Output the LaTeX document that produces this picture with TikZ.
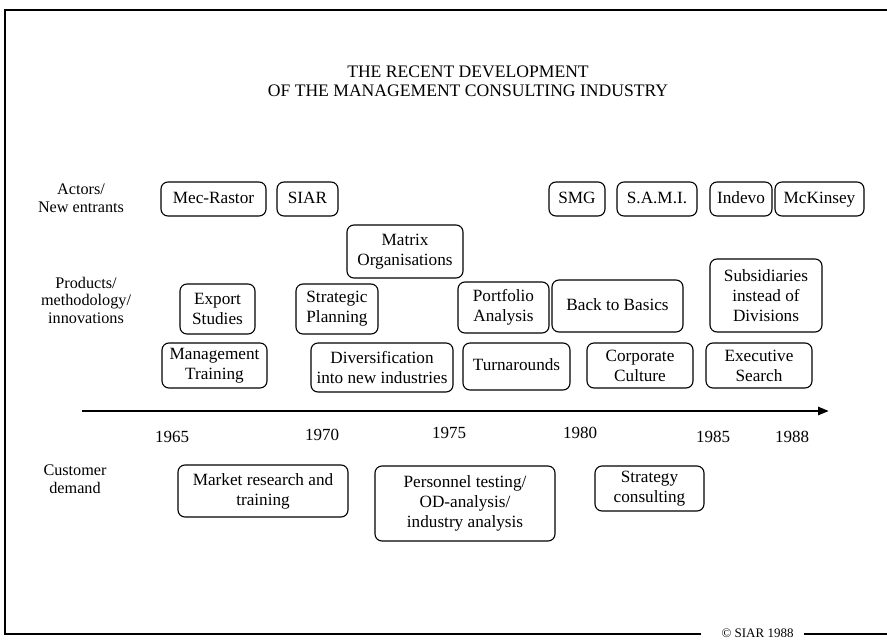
\documentclass[tikz,border=0pt]{standalone}
\usepackage{fontspec}
\setmainfont{Liberation Serif}
\usetikzlibrary{arrows.meta}

\tikzset{
  box/.style={draw, rounded corners=7pt, line width=1.1pt, inner sep=0pt,
    align=center, font=\fontsize{17.2}{20}\selectfont},
  onebox/.style={box, text height=12pt, text depth=4pt},
  rowlabel/.style={align=center, inner sep=0pt, font=\fontsize{16.2}{17.5}\selectfont},
  year/.style={inner sep=0pt, font=\fontsize{17}{20}\selectfont},
  frame/.style={line width=1.6pt},
}
\newcommand{\bx}[6]{% name, x, y, width, height, text
  \node[box, minimum width=#4pt, minimum height=#5pt] (#1) at (#2,#3) {#6};}
\newcommand{\sbx}[6]{% single-line box with a common baseline
  \node[onebox, minimum width=#4pt, minimum height=#5pt] (#1) at (#2,#3) {#6};}

\begin{document}
\begin{tikzpicture}[x=1pt, y=-1pt]
  \useasboundingbox (0,0) rectangle (887,640);

  % outer frame, open on the right, broken at the bottom for the credit line
  \coordinate (ftr) at (887,10);
  \coordinate (ftl) at (5,10);
  \coordinate (fbl) at (5,634);
  \coordinate (fbm) at (701,634);
  \coordinate (fbn) at (804,634);
  \coordinate (fbr) at (887,634);
  \draw[frame] (ftr) -- (ftl) -- (fbl) -- (fbm);
  \draw[frame] (fbn) -- (fbr);
  \node[anchor=base, inner sep=0pt, font=\fontsize{13}{15}\selectfont] (credit) at (757.5,637.5) {© SIAR 1988};

  % heading
  \node[align=center, inner sep=0pt, font=\fontsize{17.6}{19.5}\selectfont] (title) at (468,81.5)
    {THE RECENT DEVELOPMENT\\OF THE MANAGEMENT CONSULTING INDUSTRY};

  % row labels
  \node[rowlabel] (actors) at (81,198) {Actors/\\New entrants};
  \node[rowlabel] (products) at (86,300) {Products/\\methodology/\\innovations};
  \node[rowlabel] (demand) at (75,479) {Customer\\demand};

  % actors / new entrants
  \sbx{mec}{213.5}{199}{105}{34}{Mec-Rastor}
  \sbx{siar}{307.5}{199}{61}{34}{SIAR}
  \sbx{smg}{577}{199}{56}{34}{SMG}
  \sbx{sami}{657}{199}{80}{34}{S.A.M.I.}
  \sbx{indevo}{741}{199}{62}{34}{Indevo}
  \sbx{mck}{819.5}{199}{89}{34}{McKinsey}

  % products / methodology / innovations
  \bx{matrix}{405}{251.5}{116}{53}{Matrix\\Organisations}
  \bx{export}{217.5}{309}{75}{50}{Export\\Studies}
  \bx{strat}{337}{309}{82}{50}{Strategic\\Planning}
  \bx{portf}{503.5}{307.5}{91}{51}{Portfolio\\Analysis}
  \sbx{basics}{617.5}{306}{131}{52}{Back to Basics}
  \bx{subs}{766}{295.5}{112}{73}{Subsidiaries\\instead of\\Divisions}
  \bx{mgmt}{214.5}{365.5}{105}{45}{Management\\Training}
  \bx{divers}{382}{367.5}{142}{49}{Diversification\\into new industries}
  \sbx{turn}{516.5}{366.5}{107}{47}{Turnarounds}
  \bx{corp}{640}{365.5}{106}{45}{Corporate\\Culture}
  \bx{exec}{759}{365.5}{106}{45}{Executive\\Search}

  % time axis
  \coordinate (axstart) at (82,411);
  \coordinate (axend) at (829,411);
  \draw[line width=2.6pt, -{Triangle[length=11pt,width=8pt]}] (axstart) -- (axend);
  \node[year] (y65) at (172,437) {1965};
  \node[year] (y70) at (322,435) {1970};
  \node[year] (y75) at (449,433) {1975};
  \node[year] (y80) at (580,433) {1980};
  \node[year] (y85) at (713,437) {1985};
  \node[year] (y88) at (792,437) {1988};

  % customer demand
  \bx{market}{263}{491}{170}{52}{Market research and\\training}
  \bx{person}{465}{503.5}{180}{75}{Personnel testing/\\OD-analysis/\\industry analysis}
  \bx{strcons}{649.5}{488.5}{109}{45}{Strategy\\consulting}
\end{tikzpicture}
\end{document}
